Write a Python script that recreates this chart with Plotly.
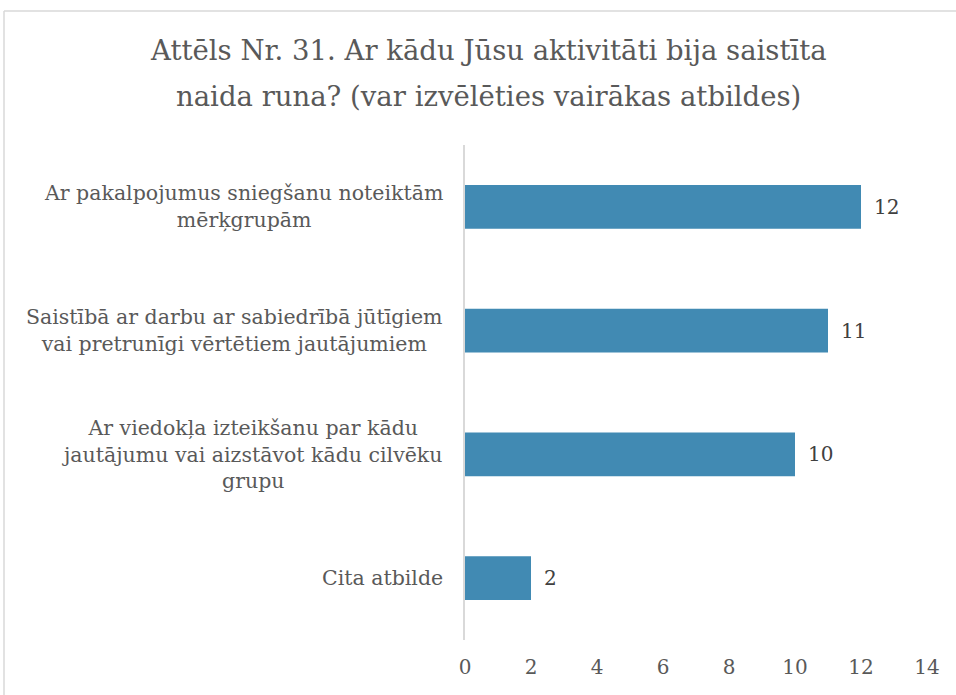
import plotly.graph_objects as go

categories = [
    "Ar pakalpojumus sniegšanu noteiktām<br>mērķgrupām",
    "Saistībā ar darbu ar sabiedrībā jūtīgiem<br>vai pretrunīgi vērtētiem jautājumiem",
    "Ar viedokļa izteikšanu par kādu<br>jautājumu vai aizstāvot kādu cilvēku<br>grupu",
    "Cita atbilde",
]
values = [12, 11, 10, 2]
tick_vals = [0, 2, 4, 6, 8, 10, 12, 14]
title_lines = [
    "Attēls Nr. 31. Ar kādu Jūsu aktivitāti bija saistīta",
    "naida runa? (var izvēlēties vairākas atbildes)",
]

FONT = "DejaVu Serif"
GRAY = "#595959"
BAR = "#418AB3"

W, H = 956, 695
L, R, T, B = 465, 29, 145, 55
PW, PH = W - L - R, H - T - B

ids = list(range(len(categories)))

fig = go.Figure()
fig.add_trace(go.Bar(
    y=ids, x=values, orientation="h",
    marker=dict(color=BAR, line=dict(width=0)),
    width=0.355, hoverinfo="x",
))

for i, v in enumerate(values):
    fig.add_annotation(
        xref="x", yref="y", x=v, y=i, xshift=11,
        xanchor="left", yanchor="middle", text=str(v), showarrow=False,
        font=dict(family=FONT, size=20, color="#404040"),
    )

for i, c in enumerate(categories):
    fig.add_annotation(
        xref="paper", yref="y", x=0, y=i, xshift=-20,
        xanchor="right", yanchor="middle", align="center",
        text=c, showarrow=False,
        font=dict(family=FONT, size=20.5, color=GRAY),
    )

for yc, line in zip([50, 96], title_lines):
    fig.add_annotation(
        xref="paper", yref="paper", x=(488 - L) / PW, y=(H - B - yc) / PH,
        xanchor="center", yanchor="middle", text=line, showarrow=False,
        font=dict(family=FONT, size=27.5, color=GRAY),
    )

# outer chart border (only top and left edges are inside the picture)
bx0 = (4 - L) / PW
by1 = (H - B - 11) / PH
fig.add_shape(type="line", xref="paper", yref="paper",
              x0=bx0, x1=2.0, y0=by1, y1=by1,
              line=dict(color="#d9d9d9", width=1.5), layer="below")
fig.add_shape(type="line", xref="paper", yref="paper",
              x0=bx0, x1=bx0, y0=-0.5, y1=by1,
              line=dict(color="#d9d9d9", width=1.5), layer="below")

fig.update_layout(
    width=W, height=H,
    margin=dict(l=L, r=R, t=T, b=B),
    paper_bgcolor="white", plot_bgcolor="white",
    showlegend=False,
    xaxis=dict(range=[0, 14], tickvals=tick_vals, showgrid=False, zeroline=False,
               showline=False, ticks="", ticklabelstandoff=13,
               tickfont=dict(family=FONT, size=20, color=GRAY)),
    yaxis=dict(range=[3.5, -0.5], showticklabels=False, showgrid=False, zeroline=False,
               showline=True, linecolor="#d9d9d9", linewidth=2, ticks=""),
)

fig.write_html("out.html", config={"displayModeBar": False},
               post_script="document.body.style.margin='0';document.body.style.overflow='hidden';")
